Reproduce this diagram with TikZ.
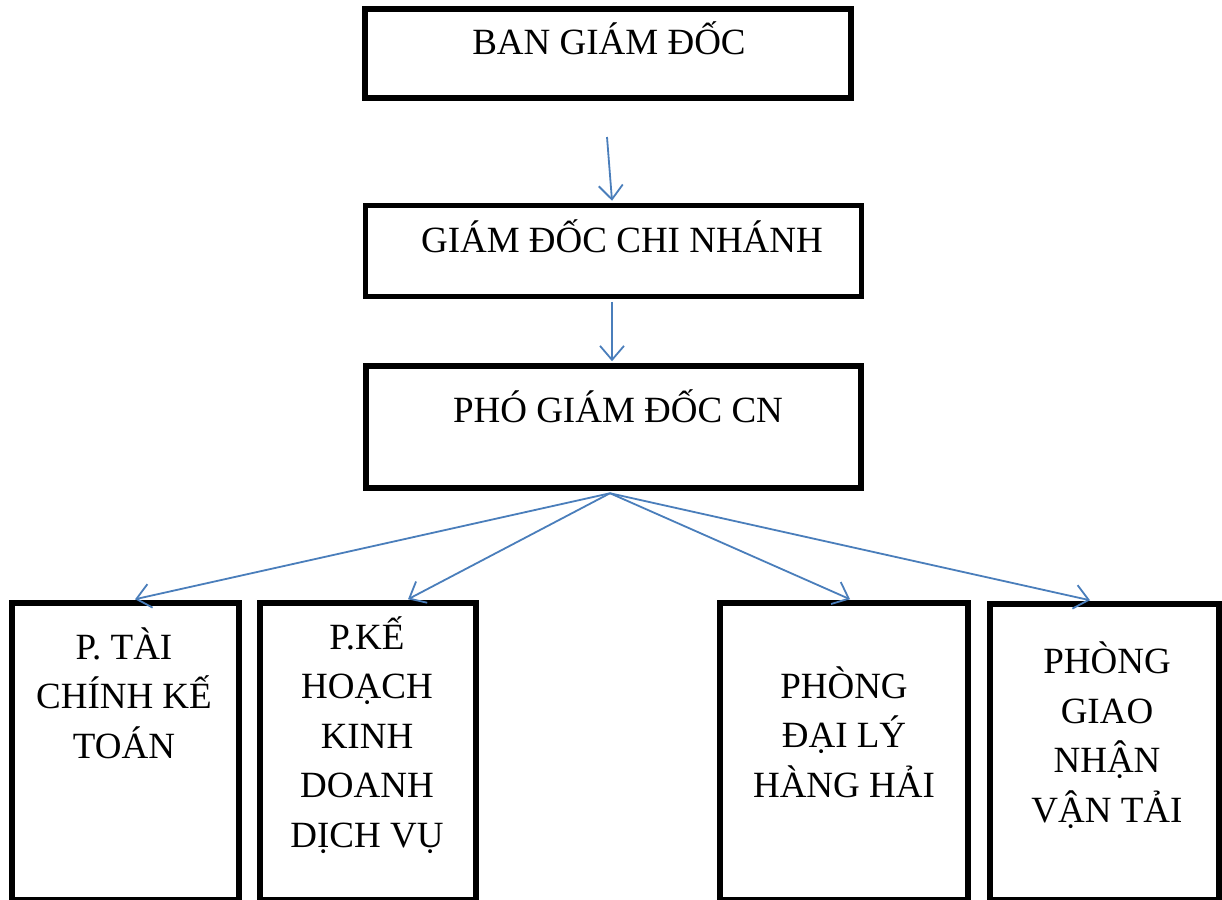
\documentclass[tikz,border=0pt]{standalone}
\usepackage{fontspec}
\setmainfont{Liberation Serif}
\usetikzlibrary{arrows.meta}
\definecolor{arrowblue}{RGB}{74,126,187}
\begin{document}
\begin{tikzpicture}[x=1pt,y=-1pt,
  box/.style={draw=black,line width=5.5pt,inner sep=0pt,rectangle},
  lbl/.style={font=\fontsize{37}{49.5}\selectfont,align=center,inner sep=0pt,anchor=base},
  conn/.style={draw=arrowblue,line width=1.8pt,-{Straight Barb[length=14pt,width=24pt]}}]
\useasboundingbox (0,0) rectangle (1222,899);
\fill[white] (0,0) rectangle (1222,899);
% boxes
\node[box,minimum width=486pt,minimum height=89pt] (b1) at (608,53.5) {};
\node[box,minimum width=496pt,minimum height=91pt] (b2) at (613.5,251) {};
\node[box,minimum width=495pt,minimum height=122pt] (b3) at (613.5,427) {};
\node[box,minimum width=227pt,minimum height=296.5pt] (b4) at (125.5,751.25) {};
\node[box,minimum width=216pt,minimum height=296.5pt] (b5) at (368,751.25) {};
\node[box,minimum width=248pt,minimum height=296.5pt] (b6) at (844,751.25) {};
\node[box,minimum width=229pt,minimum height=295.5pt] (b7) at (1104.5,751.75) {};
% texts
\node[lbl] (t1) at (609,55) {BAN GIÁM ĐỐC};
\node[lbl] (t2) at (622,252) {GIÁM ĐỐC CHI NHÁNH};
\node[lbl] (t3) at (618,422) {PHÓ GIÁM ĐỐC CN};
\node[lbl] (t4) at (124,758) {P. TÀI\\CHÍNH KẾ\\TOÁN};
\node[lbl] (t5) at (367,847) {P.KẾ\\HOẠCH\\KINH\\DOANH\\DỊCH VỤ};
\node[lbl] (t6) at (844,797) {PHÒNG\\ĐẠI LÝ\\HÀNG HẢI};
\node[lbl] (t7) at (1107,822) {PHÒNG\\GIAO\\NHẬN\\VẬN TẢI};
% connectors
\coordinate (s1) at (607,137);
\draw[conn] (s1) -- ([xshift=-1.5pt,yshift=2pt]b2.north);
\draw[conn] ([xshift=-1.5pt,yshift=-2.5pt]b2.south) -- ([xshift=-1.5pt,yshift=2pt]b3.north);
\draw[conn] ([xshift=-3.5pt,yshift=-2.5pt]b3.south) -- ([xshift=9.5pt,yshift=1pt]b4.north);
\draw[conn] ([xshift=-3.5pt,yshift=-2.5pt]b3.south) -- ([xshift=40pt,yshift=1pt]b5.north);
\draw[conn] ([xshift=-3.5pt,yshift=-2.5pt]b3.south) -- ([xshift=6pt,yshift=1pt]b6.north);
\draw[conn] ([xshift=-3.5pt,yshift=-2.5pt]b3.south) -- ([xshift=-14.5pt,yshift=1pt]b7.north);
\end{tikzpicture}
\end{document}
